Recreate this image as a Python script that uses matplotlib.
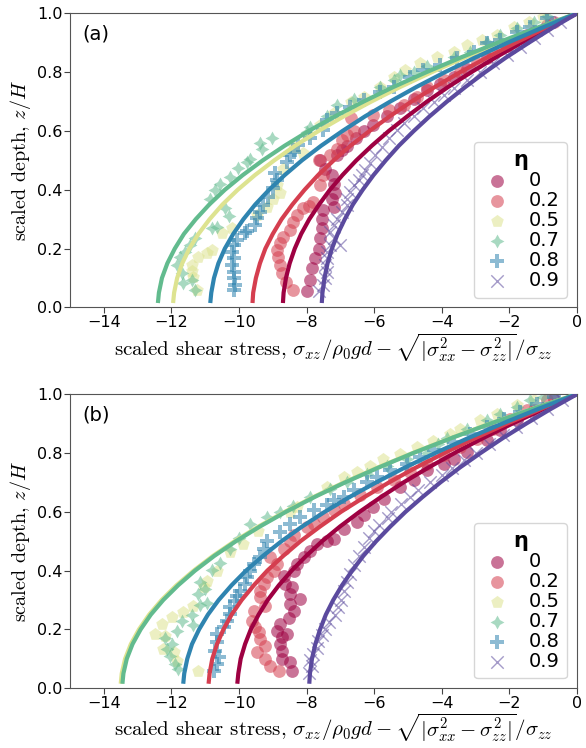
import matplotlib
matplotlib.use("Agg")
import matplotlib.pyplot as plt

plt.rcParams['mathtext.fontset'] = 'cm'

# ---------------- data ----------------
eta_labels = ["0", "0.2", "0.5", "0.7", "0.8", "0.9"]
colors = ["#9e0142", "#d53e4f", "#dde390", "#62bb8e", "#2f84b0", "#5b4a9e"]

z_line = [0.015, 0.05, 0.1, 0.15, 0.2, 0.25, 0.3, 0.35, 0.4, 0.45, 0.5,
          0.55, 0.6, 0.65, 0.7, 0.75, 0.8, 0.85, 0.9, 0.95, 1.0]

# panel (a) fitted curves
a_line_0 = [-8.70, -8.68, -8.61, -8.50, -8.35, -8.16, -7.92, -7.63, -7.31, -6.94, -6.53,
            -6.07, -5.57, -5.02, -4.44, -3.81, -3.13, -2.41, -1.65, -0.85, 0.0]
a_line_1 = [-9.60, -9.58, -9.50, -9.38, -9.22, -9.00, -8.74, -8.42, -8.06, -7.66, -7.20,
            -6.70, -6.14, -5.54, -4.90, -4.20, -3.46, -2.66, -1.82, -0.94, 0.0]
a_line_2 = [-11.95, -11.92, -11.83, -11.68, -11.47, -11.20, -10.87, -10.49, -10.04, -9.53, -8.96,
            -8.34, -7.65, -6.90, -6.09, -5.23, -4.30, -3.32, -2.27, -1.17, 0.0]
a_line_3 = [-12.40, -12.37, -12.28, -12.12, -11.90, -11.63, -11.28, -10.88, -10.42, -9.89, -9.30,
            -8.65, -7.94, -7.16, -6.32, -5.43, -4.46, -3.44, -2.36, -1.21, 0.0]
a_line_4 = [-10.85, -10.82, -10.74, -10.61, -10.42, -10.17, -9.87, -9.52, -9.11, -8.65, -8.14,
            -7.57, -6.94, -6.27, -5.53, -4.75, -3.91, -3.01, -2.06, -1.06, 0.0]
a_line_5 = [-7.55, -7.53, -7.47, -7.38, -7.25, -7.08, -6.87, -6.63, -6.34, -6.02, -5.66,
            -5.27, -4.83, -4.36, -3.85, -3.30, -2.72, -2.10, -1.43, -0.74, 0.0]

# panel (b) fitted curves
b_line_0 = [-10.05, -10.02, -9.95, -9.82, -9.65, -9.42, -9.15, -8.82, -8.44, -8.01, -7.54,
            -7.01, -6.43, -5.80, -5.13, -4.40, -3.62, -2.79, -1.91, -0.98, 0.0]
b_line_1 = [-10.90, -10.87, -10.79, -10.65, -10.46, -10.22, -9.92, -9.56, -9.16, -8.69, -8.18,
            -7.60, -6.98, -6.29, -5.56, -4.77, -3.92, -3.02, -2.07, -1.06, 0.0]
b_line_2 = [-13.50, -13.47, -13.37, -13.20, -12.96, -12.66, -12.29, -11.85, -11.34, -10.77, -10.13,
            -9.42, -8.64, -7.80, -6.89, -5.91, -4.86, -3.75, -2.57, -1.32, 0.0]
b_line_3 = [-13.45, -13.42, -13.32, -13.15, -12.91, -12.61, -12.24, -11.80, -11.30, -10.73, -10.09,
            -9.38, -8.61, -7.77, -6.86, -5.88, -4.84, -3.73, -2.56, -1.31, 0.0]
b_line_4 = [-11.65, -11.62, -11.53, -11.39, -11.18, -10.92, -10.60, -10.22, -9.79, -9.29, -8.74,
            -8.13, -7.46, -6.73, -5.94, -5.10, -4.19, -3.23, -2.21, -1.14, 0.0]
b_line_5 = [-7.92, -7.90, -7.84, -7.74, -7.60, -7.43, -7.21, -6.95, -6.65, -6.32, -5.94,
            -5.52, -5.07, -4.57, -4.04, -3.47, -2.85, -2.20, -1.50, -0.77, 0.0]

# panel (a) measured points
a_x0 = [-7.99, -7.91, -7.84, -7.74, -7.64, -7.59, -7.54, -7.54, -7.50, -7.20, -7.25, -7.15, -7.20,
        -7.25, -7.45, -7.60, -7.10, -6.95, -6.80, -6.55, -6.30, -6.02, -5.62, -5.23, -4.83, -4.44,
        -4.04, -3.65, -3.25, -2.66, -2.07, -1.48, -0.89]
a_z0 = [0.057, 0.094, 0.134, 0.168, 0.200, 0.236, 0.270, 0.300, 0.330, 0.343, 0.370, 0.390, 0.420,
        0.450, 0.470, 0.500, 0.520, 0.535, 0.550, 0.575, 0.600, 0.620, 0.650, 0.680, 0.710, 0.740,
        0.760, 0.785, 0.810, 0.850, 0.890, 0.926, 0.960]
a_x1 = [-8.40, -8.60, -8.74, -8.79, -8.84, -8.88, -8.80, -8.69, -8.49, -8.39, -8.29, -8.10, -7.94,
        -7.80, -7.59, -7.50, -7.64, -7.30, -7.10, -6.95, -6.80, -6.60, -6.70, -6.02, -5.57, -5.13,
        -4.73, -4.44, -3.94, -3.45, -2.96, -2.47, -1.87, -1.28, -0.69]
a_z1 = [0.059, 0.087, 0.116, 0.144, 0.172, 0.195, 0.219, 0.240, 0.263, 0.291, 0.314, 0.337, 0.345,
        0.360, 0.417, 0.450, 0.500, 0.520, 0.540, 0.570, 0.587, 0.600, 0.643, 0.655, 0.672, 0.690,
        0.717, 0.750, 0.773, 0.800, 0.830, 0.864, 0.904, 0.937, 0.970]
a_x2 = [-11.24, -11.35, -11.39, -11.40, -11.20, -10.96, -10.81, -10.51, -10.22, -9.48, -9.18, -8.98,
        -8.79, -8.88, -8.70, -8.10, -8.38, -7.99, -7.60, -7.20, -6.70, -6.31, -5.82, -5.42, -5.08,
        -4.64, -4.14, -3.65, -3.25, -2.81, -2.37, -1.87, -1.43, -0.99]
a_z2 = [0.060, 0.104, 0.125, 0.144, 0.172, 0.184, 0.195, 0.252, 0.269, 0.314, 0.343, 0.370,
        0.390, 0.417, 0.470, 0.524, 0.547, 0.587, 0.620, 0.660, 0.700, 0.717, 0.750, 0.785, 0.807,
        0.830, 0.853, 0.870, 0.892, 0.909, 0.926, 0.955, 0.972, 0.989]
a_x3 = [-11.30, -11.65, -11.40, -11.70, -11.84, -11.75, -11.60, -11.45, -11.30, -10.80, -10.66,
        -10.30, -10.40, -10.86, -10.71, -10.56, -10.27, -10.02, -9.76, -9.67, -9.33, -9.37, -9.03,
        -8.00, -7.90, -7.40, -7.10, -6.61, -5.82, -5.42, -5.23, -4.83, -4.44, -3.65, -3.16, -2.66,
        -2.27, -1.78, -1.28, -0.89]
a_z3 = [0.059, 0.082, 0.093, 0.116, 0.144, 0.172, 0.190, 0.212, 0.235, 0.270, 0.274, 0.310,
        0.337, 0.370, 0.400, 0.420, 0.444, 0.473, 0.496, 0.505, 0.540, 0.558, 0.575, 0.597, 0.614,
        0.650, 0.690, 0.710, 0.750, 0.773, 0.790, 0.800, 0.820, 0.853, 0.870, 0.904, 0.926, 0.949,
        0.970, 0.990]
a_x4 = [-10.16, -10.11, -10.16, -10.16, -10.20, -10.16, -10.20, -10.16, -10.07, -9.81, -9.77,
        -9.53, -9.48, -9.38, -9.28, -9.13, -8.98, -8.88, -8.93, -8.59, -8.49, -8.38, -8.25, -7.89,
        -7.50, -7.40, -7.10, -6.71, -6.31, -5.82, -5.42, -4.93, -4.54, -4.04, -3.55, -3.06, -2.66,
        -2.27, -1.78, -1.38, -0.89]
a_z4 = [0.060, 0.077, 0.100, 0.122, 0.145, 0.168, 0.190, 0.213, 0.230, 0.252, 0.260, 0.280,
        0.303, 0.326, 0.348, 0.377, 0.405, 0.433, 0.456, 0.496, 0.518, 0.530, 0.552, 0.575, 0.604,
        0.637, 0.660, 0.683, 0.706, 0.734, 0.750, 0.785, 0.807, 0.824, 0.847, 0.870, 0.898, 0.909,
        0.938, 0.955, 0.983]
a_x5 = [-7.64, -7.50, -7.45, -7.40, -7.45, -7.40, -7.40, -7.30, -7.00, -7.20, -7.30, -7.20, -7.10,
        -6.95, -6.80, -6.80, -6.71, -6.61, -6.46, -6.36, -6.26, -6.11, -5.97, -5.77, -5.57, -5.33,
        -5.13, -4.83, -4.54, -4.24, -3.94, -3.65, -3.25, -2.86, -2.47, -2.07, -1.68, -1.28, -0.89,
        -0.49]
a_z5 = [0.057, 0.077, 0.100, 0.122, 0.145, 0.168, 0.190, 0.213, 0.213, 0.236, 0.258, 0.280,
        0.300, 0.326, 0.350, 0.370, 0.394, 0.417, 0.434, 0.450, 0.468, 0.490, 0.520, 0.547, 0.575,
        0.604, 0.626, 0.650, 0.677, 0.700, 0.723, 0.745, 0.773, 0.800, 0.830, 0.858, 0.887, 0.915,
        0.943, 0.970]

# panel (b) measured points
b_x0 = [-8.43, -8.48, -8.73, -8.73, -8.78, -8.73, -8.58, -8.88, -8.78, -8.53, -8.38, -8.48, -8.19,
        -8.48, -8.43, -8.63, -8.68, -8.38, -8.28, -8.09, -7.89, -7.69, -7.40, -7.20, -6.90, -6.51,
        -6.31, -6.02, -5.72, -5.23, -4.83, -4.44, -3.94, -3.65, -3.25, -2.66, -2.27, -1.78, -1.28,
        -0.69]
b_z0 = [0.059, 0.088, 0.099, 0.127, 0.150, 0.173, 0.184, 0.195, 0.218, 0.240, 0.264, 0.286,
        0.303, 0.320, 0.343, 0.355, 0.383, 0.400, 0.423, 0.445, 0.468, 0.490, 0.502, 0.508, 0.542,
        0.565, 0.588, 0.616, 0.644, 0.684, 0.707, 0.741, 0.764, 0.780, 0.803, 0.843, 0.877, 0.911,
        0.945, 0.985]
b_x1 = [-8.83, -9.07, -9.22, -9.47, -9.22, -9.37, -9.42, -9.52, -9.62, -9.57, -9.22, -9.37, -9.37,
        -9.27, -9.17, -8.97, -8.88, -9.07, -8.68, -8.48, -8.38, -7.99, -7.79, -7.50, -7.20, -6.90,
        -6.41, -5.92, -5.42, -4.93, -4.44, -3.94, -3.45, -2.96, -2.47, -1.97, -1.48, -0.89]
b_z1 = [0.059, 0.076, 0.099, 0.122, 0.144, 0.167, 0.190, 0.207, 0.230, 0.264, 0.280, 0.309,
        0.332, 0.355, 0.377, 0.400, 0.423, 0.445, 0.474, 0.502, 0.520, 0.548, 0.559, 0.582, 0.605,
        0.627, 0.656, 0.684, 0.707, 0.735, 0.764, 0.792, 0.820, 0.849, 0.883, 0.917, 0.945, 0.980]
b_x2 = [-11.20, -11.84, -11.93, -12.24, -12.18, -12.49, -12.29, -11.99, -11.65, -11.35, -11.05,
        -10.96, -10.66, -10.27, -9.87, -9.43, -8.49, -8.29, -7.40, -6.90, -6.52, -6.12, -5.73,
        -5.24, -4.74, -4.25, -3.76, -3.45, -2.86, -2.37, -1.78, -1.28]
b_z2 = [0.060, 0.094, 0.122, 0.134, 0.178, 0.185, 0.219, 0.241, 0.259, 0.281, 0.343, 0.366,
        0.400, 0.463, 0.490, 0.536, 0.599, 0.615, 0.684, 0.718, 0.734, 0.757, 0.780, 0.796, 0.819,
        0.841, 0.864, 0.883, 0.911, 0.934, 0.962, 0.980]
b_x3 = [-11.80, -11.90, -12.04, -12.14, -11.99, -12.19, -11.84, -11.35, -11.70, -11.40, -11.15,
        -10.96, -11.20, -11.00, -11.15, -10.81, -10.56, -10.27, -10.00, -9.67, -9.18, -8.79, -8.40,
        -7.90, -7.31, -6.81, -6.20, -5.63, -5.04, -4.45, -4.10, -3.85, -3.25, -2.66, -2.27, -1.78,
        -1.38, -0.99]
b_z3 = [0.066, 0.082, 0.110, 0.133, 0.150, 0.170, 0.193, 0.215, 0.227, 0.249, 0.284, 0.290,
        0.320, 0.337, 0.360, 0.402, 0.425, 0.474, 0.510, 0.560, 0.583, 0.600, 0.620, 0.650, 0.677,
        0.700, 0.730, 0.757, 0.780, 0.800, 0.830, 0.850, 0.883, 0.911, 0.934, 0.957, 0.980, 0.990]
b_x4 = [-10.75, -10.65, -10.60, -10.70, -10.65, -10.65, -10.45, -10.36, -10.26, -10.26, -10.11,
        -10.06, -9.96, -9.81, -9.76, -9.67, -9.57, -9.37, -9.27, -9.17, -8.78, -8.48, -8.19, -7.79,
        -7.40, -7.20, -6.90, -6.61, -6.21, -5.92, -5.52, -5.03, -4.64, -4.24, -3.65, -3.16, -2.66,
        -2.17, -1.68, -1.18, -0.69]
b_z4 = [0.059, 0.082, 0.105, 0.127, 0.156, 0.184, 0.207, 0.230, 0.252, 0.275, 0.298, 0.315,
        0.332, 0.355, 0.377, 0.400, 0.423, 0.445, 0.474, 0.502, 0.530, 0.559, 0.582, 0.605, 0.622,
        0.639, 0.650, 0.673, 0.701, 0.718, 0.741, 0.764, 0.786, 0.809, 0.837, 0.866, 0.889, 0.917,
        0.940, 0.968, 0.990]
b_x5 = [-7.94, -7.85, -7.89, -7.80, -7.70, -7.66, -7.55, -7.45, -7.35, -7.15, -7.08, -6.98, -6.88,
        -6.80, -6.72, -6.60, -6.45, -6.30, -6.15, -6.00, -5.85, -5.60, -5.50, -5.20, -4.95, -4.70,
        -4.35, -4.00, -3.70, -3.35, -3.00, -2.60, -2.20, -1.80, -1.35, -0.90, -0.45]
b_z5 = [0.053, 0.075, 0.095, 0.115, 0.135, 0.160, 0.180, 0.200, 0.225, 0.250, 0.275, 0.300,
        0.330, 0.360, 0.390, 0.420, 0.450, 0.480, 0.510, 0.535, 0.555, 0.580, 0.600, 0.625, 0.650,
        0.675, 0.700, 0.725, 0.750, 0.775, 0.800, 0.830, 0.860, 0.890, 0.920, 0.950, 0.980]

x_ticks = [-14, -12, -10, -8, -6, -4, -2, 0]
y_ticks = [0.0, 0.2, 0.4, 0.6, 0.8, 1.0]

# ---------------- styles ----------------
markers = ['o', 'o', 'p', (4, 1, 0), 'P', 'x']
sizes = [85, 85, 90, 100, 90, 80]

panels = [
    dict(tag="(a)",
         lines=[a_line_0, a_line_1, a_line_2, a_line_3, a_line_4, a_line_5],
         xs=[a_x0, a_x1, a_x2, a_x3, a_x4, a_x5],
         zs=[a_z0, a_z1, a_z2, a_z3, a_z4, a_z5]),
    dict(tag="(b)",
         lines=[b_line_0, b_line_1, b_line_2, b_line_3, b_line_4, b_line_5],
         xs=[b_x0, b_x1, b_x2, b_x3, b_x4, b_x5],
         zs=[b_z0, b_z1, b_z2, b_z3, b_z4, b_z5]),
]

fig = plt.figure(figsize=(5.86, 7.48), dpi=100)
ax_rects = [[0.1195, 0.589, 0.865, 0.393], [0.1195, 0.0800, 0.865, 0.393]]

xlabel = (r"scaled shear stress, $\sigma_{xz}/\rho_0 g d - "
          r"\sqrt{|\sigma_{xx}^2 - \sigma_{zz}^2|}/\sigma_{zz}$")
ylabel = r"scaled depth, $z/H$"

axes = []
for rect, p in zip(ax_rects, panels):
    ax = fig.add_axes(rect)
    axes.append(ax)
    handles = []
    for i in range(6):
        kw = dict(s=sizes[i], marker=markers[i], alpha=0.55, zorder=2)
        if markers[i] == 'x':
            h = ax.scatter(p["xs"][i], p["zs"][i], color=colors[i], linewidths=1.0, **kw)
        else:
            h = ax.scatter(p["xs"][i], p["zs"][i], color=colors[i], linewidths=0, **kw)
        handles.append(h)
    for i in range(6):
        ax.plot(p["lines"][i], z_line, color=colors[i], lw=3.0,
                solid_capstyle='butt', zorder=3)
    ax.set_xlim(-15, 0)
    ax.set_ylim(0, 1)
    ax.set_xticks(x_ticks)
    ax.set_yticks(y_ticks)
    ax.tick_params(labelsize=11.5, length=4, color='#444444', pad=1.5)
    for sp in ax.spines.values():
        sp.set_color('#555555')
    ax.set_xlabel(xlabel, fontsize=16, fontname='cmr10')
    ax.set_ylabel(ylabel, fontsize=14.5, fontname='cmr10', labelpad=3)
    ax.text(0.025, 0.93, p["tag"], transform=ax.transAxes, fontsize=14,
            va='center', ha='left')
    leg = ax.legend(handles, eta_labels, title="η", loc='lower right',
                    fontsize=14, title_fontproperties={'weight': 'bold', 'size': 15},
                    handlelength=1.6, handletextpad=0.8, labelspacing=0.05,
                    borderpad=0.4, frameon=True)
    leg.get_frame().set_edgecolor('#cccccc')


def place_label(ax, fs, r):
    ax.xaxis.label.set_fontsize(fs)
    tick_bottom = min(t.get_window_extent(r).y0 for t in ax.get_xticklabels()
                      if t.get_text())
    y_ax = ax.transAxes.inverted().transform((0, tick_bottom - 1.0))[1]
    ax.xaxis.set_label_coords(0.52, y_ax)


# one common x-label size: the largest that keeps the lower label inside the figure
fs = 16.0
while True:
    fig.canvas.draw()
    r = fig.canvas.get_renderer()
    place_label(axes[1], fs, r)
    fig.canvas.draw()
    if axes[1].xaxis.label.get_window_extent(r).y0 >= 0.5 or fs <= 13:
        break
    fs -= 0.25
fig.canvas.draw()
r = fig.canvas.get_renderer()
place_label(axes[0], fs, r)

fig.savefig("out.png", dpi=100)
